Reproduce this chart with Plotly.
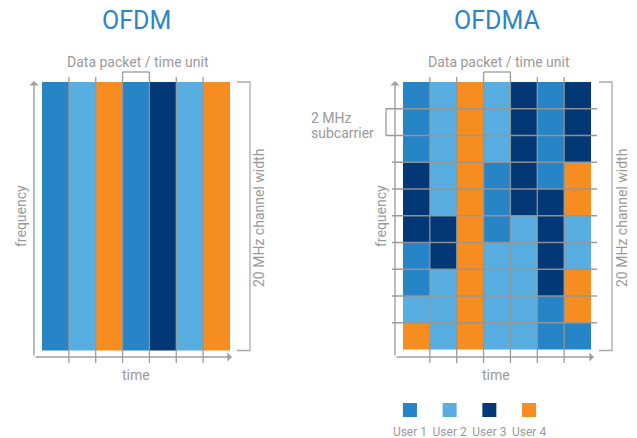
import plotly.graph_objects as go

# user index per time slot (1..4)
users = ["User 1", "User 2", "User 3", "User 4"]

ofdm_slots = [1, 2, 4, 1, 3, 2, 4]

# OFDMA: 10 subcarriers (top to bottom) x 7 time slots
ofdma_grid = [
    [1, 2, 4, 2, 3, 1, 3],
    [1, 2, 4, 2, 3, 1, 3],
    [1, 2, 4, 2, 3, 1, 3],
    [3, 2, 4, 1, 3, 1, 4],
    [3, 2, 4, 1, 3, 3, 4],
    [3, 3, 4, 1, 2, 3, 2],
    [1, 3, 4, 2, 2, 3, 2],
    [1, 2, 4, 2, 2, 3, 4],
    [2, 2, 4, 2, 2, 1, 4],
    [4, 2, 4, 2, 2, 1, 1],
]

colors = ["#2684c7", "#58aee1", "#033876", "#f58d21"]
W, H = 637, 438
GRAY = "#9a9a9a"
LINE = "rgba(150,150,150,0.95)"
FONT = "Roboto"


def px(x):
    return x / W


def py(y):
    return 1 - y / H


scale = []
for i, c in enumerate(colors):
    scale.append([i / 4, c])
    scale.append([(i + 1) / 4, c])

fig = go.Figure()

fig.add_trace(go.Heatmap(
    z=[ofdm_slots], zmin=0.5, zmax=4.5, colorscale=scale, showscale=False,
    hoverinfo="skip", xaxis="x", yaxis="y"))

fig.add_trace(go.Heatmap(
    z=ofdma_grid, zmin=0.5, zmax=4.5, colorscale=scale, showscale=False,
    hoverinfo="skip", xaxis="x2", yaxis="y2"))

# legend: swatches with labels underneath
fig.add_trace(go.Scatter(
    x=list(range(len(users))), y=[0] * len(users), mode="markers",
    marker=dict(symbol="square", size=14, color=colors),
    hoverinfo="skip", xaxis="x3", yaxis="y3"))
fig.add_trace(go.Scatter(
    x=list(range(len(users))), y=[-2.3] * len(users), mode="text",
    text=users, cliponaxis=False,
    textfont=dict(family=FONT, size=12, color=GRAY),
    hoverinfo="skip", xaxis="x3", yaxis="y3"))

hidden = dict(visible=False, fixedrange=True)
fig.update_layout(
    width=W, height=H,
    margin=dict(l=0, r=0, t=0, b=0),
    paper_bgcolor="white", plot_bgcolor="rgba(0,0,0,0)",
    showlegend=False,
    font=dict(family=FONT, color=GRAY),
    xaxis=dict(domain=[px(42), px(230)], range=[-0.5, 6.5], **hidden),
    yaxis=dict(domain=[py(350.5), py(82)], range=[-0.5, 0.5], **hidden),
    xaxis2=dict(domain=[px(403), px(591)], range=[-0.5, 6.5], anchor="y2", **hidden),
    yaxis2=dict(domain=[py(349.5), py(82)], range=[9.5, -0.5], anchor="x2", **hidden),
    xaxis3=dict(domain=[px(400), px(539)], range=[-0.25, 3.25], anchor="y3", **hidden),
    yaxis3=dict(domain=[py(438), py(400)], range=[-2.8, 1], anchor="x3", **hidden),
)

shapes = []
n_cols = len(ofdm_slots)
n_rows = len(ofdma_grid)

# column boundary lines (with ticks above and below)
for xa in ["x", "x2"]:
    for k in range(n_cols - 1):
        shapes.append(dict(type="line", xref=xa, yref="paper",
                           x0=k + 0.5, x1=k + 0.5, y0=py(77), y1=py(363),
                           line=dict(color=LINE, width=1.3)))

# subcarrier boundary lines
for k in range(n_rows - 1):
    shapes.append(dict(type="line", xref="paper", yref="y2",
                       x0=px(392), x1=px(597), y0=k + 0.5, y1=k + 0.5,
                       line=dict(color=LINE, width=1.3)))

# "data packet / time unit" brackets over the 4th slot
for xa in ["x", "x2"]:
    shapes.append(dict(type="line", xref=xa, yref="paper", x0=2.5, x1=3.5,
                       y0=py(72), y1=py(72), line=dict(color=LINE, width=1.3)))
    for xv in [2.5, 3.5]:
        shapes.append(dict(type="line", xref=xa, yref="paper", x0=xv, x1=xv,
                           y0=py(72), y1=py(78), line=dict(color=LINE, width=1.3)))

# 2 MHz subcarrier bracket (row 2)
shapes.append(dict(type="line", xref="paper", yref="y2", x0=px(386), x1=px(386),
                   y0=0.5, y1=1.5, line=dict(color=LINE, width=1.3)))
for yv in [0.5, 1.5]:
    shapes.append(dict(type="line", xref="paper", yref="y2", x0=px(386), x1=px(392),
                       y0=yv, y1=yv, line=dict(color=LINE, width=1.3)))

# channel width brackets
for x_in, x_out in [(237, 250), (599, 612)]:
    shapes.append(dict(type="path",
                       path=f"M {px(x_in)},{py(82)} L {px(x_out)},{py(82)} "
                            f"L {px(x_out)},{py(350.5)} L {px(x_in)},{py(350.5)}",
                       xref="paper", yref="paper",
                       line=dict(color="#aaaaaa", width=1.3)))

fig.update_layout(shapes=shapes)

ann = []
# axes with arrows
for x0, x_tip in [(34, 232), (395, 594)]:
    ann.append(dict(x=px(x_tip), y=py(357), ax=x0 - x_tip, ay=0, xref="paper", yref="paper",
                    text="", showarrow=True, arrowhead=1, arrowsize=1.1,
                    arrowwidth=1.4, arrowcolor="#a0a0a0"))
    ann.append(dict(x=px(x0), y=py(81), ax=0, ay=276, xref="paper", yref="paper",
                    text="", showarrow=True, arrowhead=1, arrowsize=1.1,
                    arrowwidth=1.4, arrowcolor="#a0a0a0"))


def label(x, y, text, size=14, color=GRAY, angle=0, xanchor="center", **kw):
    ann.append(dict(x=px(x), y=py(y), xref="paper", yref="paper", text=text,
                    showarrow=False, textangle=angle, xanchor=xanchor, yanchor="middle",
                    font=dict(family=FONT, size=size, color=color), **kw))


label(136, 20, "OFDM", size=25, color="#2a86c8")
label(497, 20, "OFDMA", size=25, color="#2a86c8")
label(138, 62, "Data packet / time unit")
label(499, 62, "Data packet / time unit")
label(21, 216, "frequency", angle=-90)
label(381, 216, "frequency", angle=-90)
label(136, 375, "time")
label(496, 375, "time")
label(259, 218, "20 MHz channel width", angle=-90)
label(622, 218, "20 MHz channel width", angle=-90)
label(309, 118, "2 MHz", xanchor="left")
label(309, 133, "subcarrier", xanchor="left")

fig.update_layout(annotations=ann)

fig.write_html("out.html", config={"displayModeBar": False},
               post_script="document.body.style.margin='0';")
